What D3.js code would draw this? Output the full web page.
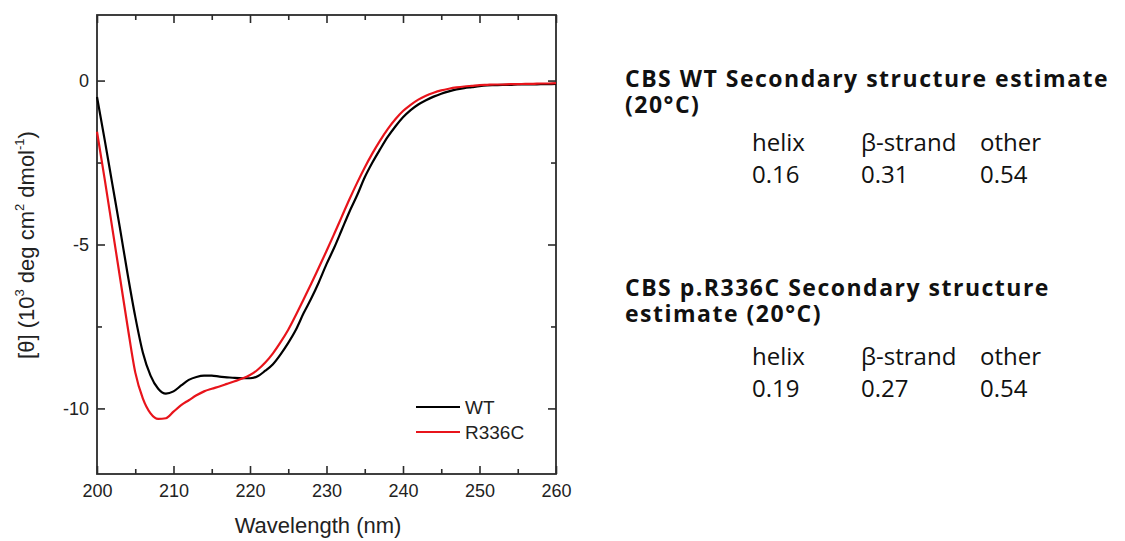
<!DOCTYPE html>
<html>
<head>
<meta charset="utf-8">
<script src="https://cdn.jsdelivr.net/npm/d3@7"></script>
<style>
  html, body { margin: 0; padding: 0; background: #fff; }
  svg { display: block; }
</style>
</head>
<body>
<svg id="chart" width="1125" height="541"></svg>
<script>
// Far-UV CD spectra, mean residue ellipticity in 10^3 deg cm^2 dmol^-1
const wavelength = d3.range(200, 261, 1);
const wtValues = [
  -0.50, -1.80, -3.15, -4.50, -5.90, -7.20, -8.30, -9.00, -9.40, -9.55,
  -9.48, -9.30, -9.13, -9.04, -9.00, -9.00, -9.03, -9.05, -9.07, -9.08,
  -9.08, -9.02, -8.85, -8.65, -8.35, -8.00, -7.60, -7.10, -6.65, -6.15,
  -5.60, -5.10, -4.55, -4.00, -3.50, -2.95, -2.50, -2.10, -1.72, -1.40,
  -1.12, -0.90, -0.73, -0.60, -0.49, -0.40, -0.33, -0.27, -0.23, -0.20,
  -0.17, -0.15, -0.14, -0.13, -0.13, -0.12, -0.12, -0.12, -0.11, -0.11,
  -0.10
];
const r336cValues = [
  -1.56, -3.00, -4.50, -6.00, -7.50, -8.90, -9.70, -10.15, -10.32, -10.30,
  -10.10, -9.90, -9.75, -9.60, -9.48, -9.40, -9.33, -9.25, -9.17, -9.09,
  -8.98, -8.82, -8.60, -8.32, -7.98, -7.60, -7.15, -6.68, -6.20, -5.70,
  -5.20, -4.68, -4.15, -3.62, -3.12, -2.65, -2.22, -1.83, -1.48, -1.18,
  -0.93, -0.74, -0.58, -0.46, -0.37, -0.30, -0.25, -0.21, -0.18, -0.16,
  -0.14, -0.13, -0.12, -0.12, -0.11, -0.11, -0.10, -0.10, -0.09, -0.09,
  -0.08
];
const seriesNames = ["WT", "R336C"];
const seriesColors = ["#000000", "#e8141b"];

const xMajorTicks = [200, 210, 220, 230, 240, 250, 260];
const xMinorTicks = [205, 215, 225, 235, 245, 255];
const yMajorTicks = [0, -5, -10];
const yMinorTicks = [-2.5, -7.5];

// Secondary structure estimates
const structureLabels = ["helix", "β-strand", "other"];
const wtFractions = ["0.16", "0.31", "0.54"];
const r336cFractions = ["0.19", "0.27", "0.54"];

const svg = d3.select("#chart");
const plot = { left: 97, right: 556, top: 15, bottom: 474 };

const x = d3.scaleLinear().domain([200, 260]).range([plot.left, plot.right]);
const y = d3.scaleLinear().domain([-12, 2]).range([plot.bottom, plot.top]);

const axisColor = "#2b2b2b";
const chartFont = "'Liberation Sans', Arial, sans-serif";

// Axes with inward ticks on all four sides
function drawAxis(axisGen, transform) {
  const g = svg.append("g").attr("transform", transform).call(axisGen);
  g.select(".domain").remove();
  g.selectAll(".tick line").attr("stroke", axisColor).attr("stroke-width", 1.6);
  return g;
}
const bottomMajor = drawAxis(
  d3.axisBottom(x).tickValues(xMajorTicks).tickSize(-8).tickPadding(10).tickFormat(d3.format("d")),
  `translate(0,${plot.bottom})`);
bottomMajor.selectAll("text")
  .attr("font-family", chartFont).attr("font-size", 18).attr("fill", "#222");
drawAxis(d3.axisBottom(x).tickValues(xMinorTicks).tickSize(-5).tickFormat(""), `translate(0,${plot.bottom})`);
drawAxis(d3.axisTop(x).tickValues(xMajorTicks).tickSize(-8).tickFormat(""), `translate(0,${plot.top})`);
drawAxis(d3.axisTop(x).tickValues(xMinorTicks).tickSize(-5).tickFormat(""), `translate(0,${plot.top})`);

const leftMajor = drawAxis(
  d3.axisLeft(y).tickValues(yMajorTicks).tickSize(-8).tickPadding(8).tickFormat(d => d === 0 ? "0" : "-" + Math.abs(d)),
  `translate(${plot.left},0)`);
leftMajor.selectAll("text")
  .attr("font-family", chartFont).attr("font-size", 18).attr("fill", "#222");
drawAxis(d3.axisLeft(y).tickValues(yMinorTicks).tickSize(-5).tickFormat(""), `translate(${plot.left},0)`);
drawAxis(d3.axisRight(y).tickValues(yMajorTicks).tickSize(-8).tickFormat(""), `translate(${plot.right},0)`);
drawAxis(d3.axisRight(y).tickValues(yMinorTicks).tickSize(-5).tickFormat(""), `translate(${plot.right},0)`);

// Frame
svg.append("rect")
  .attr("x", plot.left).attr("y", plot.top)
  .attr("width", plot.right - plot.left).attr("height", plot.bottom - plot.top)
  .attr("fill", "none").attr("stroke", axisColor).attr("stroke-width", 1.8);

// Spectra
const line = d3.line()
  .x((d, i) => x(wavelength[i]))
  .y(d => y(d))
  .curve(d3.curveMonotoneX);

[wtValues, r336cValues].forEach((vals, k) => {
  svg.append("path")
    .datum(vals)
    .attr("d", line)
    .attr("fill", "none")
    .attr("stroke", seriesColors[k])
    .attr("stroke-width", 2.2)
    .attr("stroke-linejoin", "round");
});

// Legend
const legend = svg.append("g").attr("transform", "translate(416,407)");
seriesNames.forEach((name, i) => {
  const row = legend.append("g").attr("transform", `translate(0,${i * 25})`);
  row.append("line").attr("x1", 0).attr("x2", 44).attr("y1", 0).attr("y2", 0)
    .attr("stroke", seriesColors[i]).attr("stroke-width", 2.2);
  row.append("text").attr("x", 49).attr("y", 7)
    .attr("font-family", chartFont).attr("font-size", 19).attr("fill", "#222")
    .text(name);
});

// Axis titles
svg.append("text")
  .attr("x", 318).attr("y", 533)
  .attr("text-anchor", "middle")
  .attr("font-family", chartFont).attr("font-size", 22).attr("fill", "#222")
  .text("Wavelength (nm)");

const yTitle = svg.append("text")
  .attr("transform", "translate(34,245) rotate(-90)")
  .attr("text-anchor", "middle")
  .attr("font-family", chartFont).attr("font-size", 22).attr("fill", "#222");
yTitle.append("tspan").text("[θ] (10");
yTitle.append("tspan").attr("font-size", 13).attr("dy", -10).text("3");
yTitle.append("tspan").attr("dy", 10).text(" deg cm");
yTitle.append("tspan").attr("font-size", 13).attr("dy", -10).text("2");
yTitle.append("tspan").attr("dy", 10).text(" dmol");
yTitle.append("tspan").attr("font-size", 13).attr("dy", -10).text("-1");
yTitle.append("tspan").attr("dy", 10).text(")");

// Secondary structure estimate panels
const panelFont = "'Open Sans', 'Noto Sans', sans-serif";
const colX = [752, 861, 980];
function drawEstimate(titleLines, fractions, top, rowY) {
  titleLines.forEach((t, i) => {
    svg.append("text")
      .attr("x", 625).attr("y", top + i * 26)
      .attr("font-family", panelFont).attr("font-weight", 700)
      .attr("font-size", 23).attr("letter-spacing", 1.5).attr("fill", "#111")
      .text(t);
  });
  structureLabels.forEach((lab, j) => {
    svg.append("text").attr("x", colX[j]).attr("y", rowY)
      .attr("font-family", panelFont).attr("font-size", 24).attr("fill", "#111")
      .text(lab);
    svg.append("text").attr("x", colX[j]).attr("y", rowY + 32)
      .attr("font-family", panelFont).attr("font-size", 24).attr("fill", "#111")
      .text(fractions[j]);
  });
}
drawEstimate(["CBS WT Secondary structure estimate", "(20°C)"], wtFractions, 87, 151);
drawEstimate(["CBS p.R336C Secondary structure", "estimate (20°C)"], r336cFractions, 296, 365);
</script>
</body>
</html>
